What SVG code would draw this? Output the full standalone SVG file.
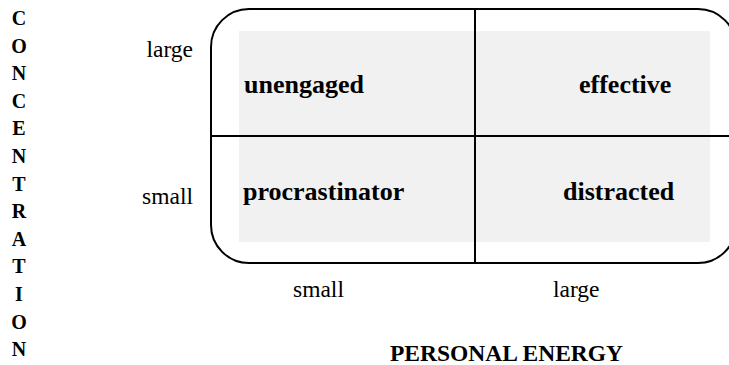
<svg xmlns="http://www.w3.org/2000/svg" width="729" height="365" viewBox="0 0 729 365">
<style>
.t{font-family:"Liberation Serif","Times New Roman",serif;fill:#000}
.q{font-size:26px;font-weight:bold}
.a{font-size:23.5px}
.b{font-size:23.5px;font-weight:bold}
.v{font-size:20px;font-weight:bold}
.ln{stroke:#000;stroke-width:2;fill:none}
</style>
<rect id="shade" x="239" y="31" width="471" height="211" fill="#f1f1f1"/>
<g id="frame">
<rect class="ln" x="211" y="9" width="525" height="254" rx="38" ry="38"/>
</g>
<g id="dividers">
<line class="ln" x1="475" y1="9" x2="475" y2="263"/>
<line class="ln" x1="211" y1="136" x2="736" y2="136"/>
</g>
<g id="q-unengaged"><text class="t q" x="244" y="93">unengaged</text></g>
<g id="q-effective"><text class="t q" x="579" y="93">effective</text></g>
<g id="q-procrastinator"><text class="t q" x="243" y="200">procrastinator</text></g>
<g id="q-distracted"><text class="t q" x="563" y="200">distracted</text></g>
<g id="y-axis">
<text class="t a" x="193" y="57" text-anchor="end">large</text>
<text class="t a" x="193" y="204" text-anchor="end">small</text>
<text class="t v" x="19" y="25" text-anchor="middle"><tspan x="19">C</tspan><tspan x="19" dy="27.6">O</tspan><tspan x="19" dy="27.6">N</tspan><tspan x="19" dy="27.6">C</tspan><tspan x="19" dy="27.6">E</tspan><tspan x="19" dy="27.6">N</tspan><tspan x="19" dy="27.6">T</tspan><tspan x="19" dy="27.6">R</tspan><tspan x="19" dy="27.6">A</tspan><tspan x="19" dy="27.6">T</tspan><tspan x="19" dy="27.6">I</tspan><tspan x="19" dy="27.6">O</tspan><tspan x="19" dy="27.6">N</tspan></text>
</g>
<g id="x-axis">
<text class="t a" x="293" y="297">small</text>
<text class="t a" x="553" y="297">large</text>
<text class="t b" x="390" y="361">PERSONAL ENERGY</text>
</g>
</svg>
